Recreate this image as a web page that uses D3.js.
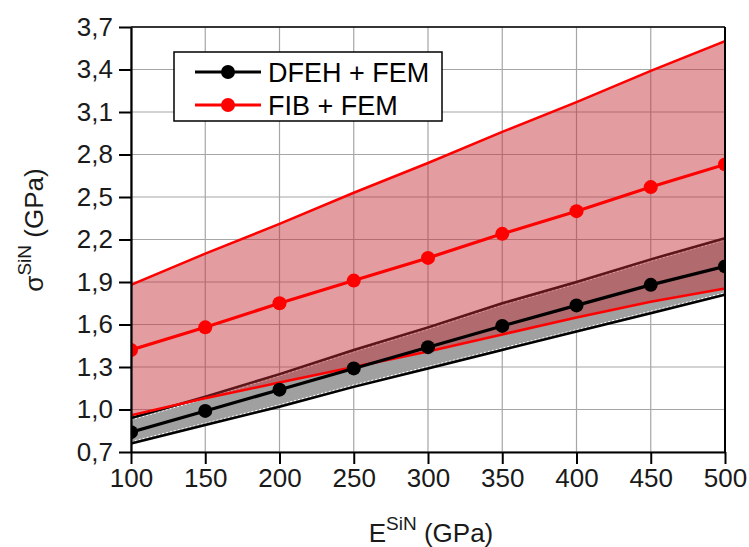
<!DOCTYPE html>
<html><head><meta charset="utf-8">
<script src="https://cdn.jsdelivr.net/npm/d3@7"></script>
<style>body{margin:0;background:#fff}svg{display:block;font-family:"Liberation Sans",Arial,sans-serif}</style>
</head><body><svg id="c" width="749" height="547"></svg>
<script>
const E = [100,150,200,250,300,350,400,450,500];
const fibMid   = [1.42,1.58,1.75,1.91,2.07,2.24,2.40,2.57,2.73];
const fibUp    = [1.88,2.10,2.31,2.53,2.74,2.96,3.17,3.39,3.60];
const fibLow   = [0.96,1.08,1.19,1.30,1.41,1.53,1.65,1.76,1.855];
const dfehMid  = [0.84,0.99,1.14,1.29,1.44,1.59,1.735,1.88,2.01];
const dfehUp   = [0.94,1.09,1.25,1.42,1.58,1.75,1.90,2.06,2.21];
const dfehLow  = [0.76,0.89,1.02,1.16,1.29,1.42,1.55,1.68,1.81];
const xTicks = [100,150,200,250,300,350,400,450,500];
const yTicks = [0.7,1.0,1.3,1.6,1.9,2.2,2.5,2.8,3.1,3.4,3.7];
const legendLabels = ["DFEH + FEM","FIB + FEM"];

const L=131,R=725,T=27,B=452;
const svg=d3.select("#c");
const x=d3.scaleLinear().domain([100,500]).range([L,R]);
const y=d3.scaleLinear().domain([0.7,3.7]).range([B,T]);
const fmt=v=>d3.format(".1f")(v).replace(".",",");

// grid
const g=svg.append("g");
g.selectAll(".vx").data(xTicks).join("line").attr("x1",d=>x(d)).attr("x2",d=>x(d)).attr("y1",T).attr("y2",B).attr("stroke","#a6a6a6").attr("stroke-width",1.2);
g.selectAll(".hy").data(yTicks).join("line").attr("y1",d=>y(d)).attr("y2",d=>y(d)).attr("x1",L).attr("x2",R).attr("stroke","#a6a6a6").attr("stroke-width",1.2);

svg.append("clipPath").attr("id","clip").append("rect").attr("x",L).attr("y",T).attr("width",R-L).attr("height",B-T);
const p=svg.append("g").attr("clip-path","url(#clip)");
const idx=E.map((d,i)=>i);
const area=(lo,hi)=>d3.area().x(i=>x(E[i])).y0(i=>y(lo[i])).y1(i=>y(hi[i]))(idx);
const line=(arr,off=0)=>d3.line().x(i=>x(E[i])).y(i=>y(arr[i])+off)(idx);

// DFEH band
p.append("path").attr("d",area(dfehLow,dfehUp)).attr("fill","#a0a0a0");
p.append("path").attr("d",line(dfehUp,2)).attr("fill","none").attr("stroke","#fff").attr("stroke-width",1).attr("stroke-dasharray","2,2");
p.append("path").attr("d",line(dfehLow,-2)).attr("fill","none").attr("stroke","#fff").attr("stroke-width",1).attr("stroke-dasharray","2,2");
p.append("path").attr("d",line(dfehUp)).attr("fill","none").attr("stroke","#000").attr("stroke-width",2.5);
p.append("path").attr("d",line(dfehLow)).attr("fill","none").attr("stroke","#000").attr("stroke-width",2.5);

// FIB band translucent
p.append("path").attr("d",area(fibLow,fibUp)).attr("fill","rgb(195,45,50)").attr("fill-opacity",0.47);
p.append("path").attr("d",line(fibUp)).attr("fill","none").attr("stroke","#ff0000").attr("stroke-width",2.5);
p.append("path").attr("d",line(fibLow)).attr("fill","none").attr("stroke","#ff0000").attr("stroke-width",2.5);

// center lines
function series(arr,col){
  p.append("path").attr("d",line(arr)).attr("fill","none").attr("stroke",col).attr("stroke-width",3.2);
  p.selectAll(null).data(idx).join("circle").attr("cx",i=>x(E[i])).attr("cy",i=>y(arr[i])).attr("r",7).attr("fill",col);
}
series(fibMid,"#ff0000");
series(dfehMid,"#000");

// frame
svg.append("line").attr("x1",L).attr("x2",R).attr("y1",T).attr("y2",T).attr("stroke","#000").attr("stroke-width",1.5);
svg.append("line").attr("x1",R).attr("x2",R).attr("y1",T).attr("y2",B).attr("stroke","#000").attr("stroke-width",2);

// axes
const xa=svg.append("g").attr("transform",`translate(0,${B})`).call(d3.axisBottom(x).tickValues(xTicks).tickSize(12).tickSizeOuter(0).tickPadding(5).tickFormat(d3.format("d")));
const ya=svg.append("g").attr("transform",`translate(${L},0)`).call(d3.axisLeft(y).tickValues(yTicks).tickSize(12).tickSizeOuter(0).tickPadding(6).tickFormat(fmt));
[xa,ya].forEach(a=>{a.select(".domain").attr("stroke","#000").attr("stroke-width",2.2);
  a.selectAll(".tick line").attr("stroke","#000").attr("stroke-width",2);
  a.selectAll("text").attr("font-size",26).attr("fill","#1a1a1a").attr("font-family","Liberation Sans, Arial, sans-serif");});

// axis titles
const xt=svg.append("text").attr("x",431).attr("y",542).attr("text-anchor","middle").attr("font-size",26).attr("fill","#1a1a1a");
xt.append("tspan").text("E");
xt.append("tspan").text("SiN").attr("font-size",19).attr("dy",-12);
xt.append("tspan").text(" (GPa)").attr("dy",12);
const yt=svg.append("text").attr("transform","translate(43,230) rotate(-90)").attr("text-anchor","middle").attr("font-size",26).attr("fill","#1a1a1a");
yt.append("tspan").text("σ");
yt.append("tspan").text("SiN").attr("font-size",19).attr("dy",-12);
yt.append("tspan").text(" (GPa)").attr("dy",12);

// legend
const lg=svg.append("g");
lg.append("rect").attr("x",174).attr("y",52).attr("width",268).attr("height",69).attr("fill","#fff").attr("stroke","#000").attr("stroke-width",1.5);
const cols=["#000","#ff0000"];
legendLabels.forEach((t,i)=>{
  const yy=72+i*33;
  lg.append("line").attr("x1",195).attr("x2",261).attr("y1",yy).attr("y2",yy).attr("stroke",cols[i]).attr("stroke-width",3.2);
  lg.append("circle").attr("cx",228).attr("cy",yy).attr("r",7).attr("fill",cols[i]);
  lg.append("text").attr("x",268).attr("y",yy+9.5).attr("font-size",27).attr("fill","#000").text(t);
});
</script></body></html>
